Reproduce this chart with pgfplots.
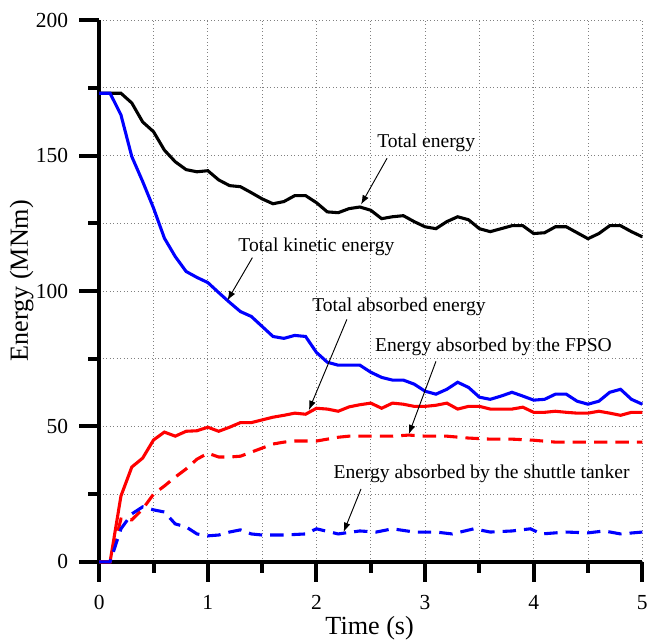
\documentclass[border=0pt]{standalone}
\usepackage{fontspec}
\setmainfont{Liberation Serif}
\usepackage{pgfplots}
\pgfplotsset{compat=1.18}
\usetikzlibrary{arrows.meta}

\begin{document}
\begin{tikzpicture}
\begin{axis}[
    scale only axis,
    width=405pt, height=404pt,
    xmin=0, xmax=5, ymin=0, ymax=200,
    axis lines*=left,
    axis line style={line width=3pt},
    xtick={0,1,2,3,4,5},
    ytick={0,50,100,150,200},
    minor xtick={0.5,1.5,2.5,3.5,4.5},
    minor ytick={25,75,125,175},
    tick align=outside,
    major tick length=15pt,
    minor tick length=8pt,
    every tick/.style={black, line width=3pt},
    grid=both,
    grid style={gray, dotted, line width=0.6pt},
    major grid style={gray, dotted, line width=0.6pt},
    minor grid style={gray, dotted, line width=0.6pt},
    /pgf/number format/assume math mode=true,
    ticklabel style={font=\fontsize{16}{18}\selectfont, inner sep=1pt},
    xticklabel style={yshift=-9pt},
    yticklabel style={xshift=-7pt},
    xlabel={Time (s)},
    ylabel={Energy (MNm)},
    label style={font=\fontsize{19.5}{21}\selectfont},
    xlabel style={at={(axis description cs:0.498,-0.123)}, anchor=center, inner sep=0pt},
    ylabel style={at={(axis description cs:-0.143,0.519)}, anchor=center, inner sep=2pt},
    clip=false,
]
% total energy
\addplot[black, line width=2.3pt] coordinates {
(0,173) (0.2,173) (0.3,169.4) (0.4,162.4) (0.5,158.8) (0.6,152) (0.7,147.7) (0.8,144.8) (0.9,144) (1.0,144.4)
(1.1,141) (1.2,138.9) (1.3,138.5) (1.4,136.3) (1.5,134) (1.6,132.2) (1.7,133) (1.8,135.2) (1.9,135.2) (2.0,132.6)
(2.1,129.2) (2.2,128.9) (2.3,130.4) (2.4,131) (2.5,129.8) (2.6,126.7) (2.7,127.4) (2.8,127.8) (2.9,125.6) (3.0,123.7)
(3.1,123) (3.2,125.6) (3.3,127.4) (3.4,126.3) (3.5,123) (3.6,121.9) (3.7,123) (3.8,124.1) (3.9,124.1) (4.0,121.2)
(4.1,121.5) (4.2,123.7) (4.3,123.7) (4.4,121.5) (4.5,119.3) (4.6,121.2) (4.7,124.1) (4.8,124.1) (4.9,121.9) (5.0,120)
};
% total kinetic energy
\addplot[blue, line width=2.3pt] coordinates {
(0,173) (0.1,173) (0.2,165) (0.3,149.6) (0.4,140.4) (0.5,130.6) (0.6,119.5) (0.7,112.7) (0.8,107.2) (0.9,105) (1.0,103.1)
(1.1,99.4) (1.2,95.8) (1.3,92.4) (1.4,90.6) (1.5,86.9) (1.6,83.2) (1.7,82.5) (1.8,83.6) (1.9,83.2) (2.0,77.3)
(2.1,73.7) (2.2,72.6) (2.3,72.6) (2.4,72.6) (2.5,70) (2.6,68.1) (2.7,67.1) (2.8,67.1) (2.9,65.6) (3.0,63)
(3.1,61.9) (3.2,63.7) (3.3,66.3) (3.4,64.4) (3.5,60.8) (3.6,60) (3.7,61.2) (3.8,62.6) (3.9,61.2) (4.0,59.7)
(4.1,60) (4.2,61.9) (4.3,61.9) (4.4,59.3) (4.5,58.2) (4.6,59.3) (4.7,62.6) (4.8,63.7) (4.9,60) (5.0,58.2)
};
% total absorbed energy
\addplot[red, line width=2.3pt] coordinates {
(0,0) (0.1,0) (0.2,24.3) (0.3,35) (0.4,38.3) (0.5,45) (0.6,47.9) (0.7,46.4) (0.8,48.2) (0.9,48.4) (1.0,49.7)
(1.1,48.2) (1.2,49.7) (1.3,51.4) (1.4,51.4) (1.5,52.4) (1.6,53.4) (1.7,54.1) (1.8,54.9) (1.9,54.5) (2.0,56.7)
(2.1,56.4) (2.2,55.6) (2.3,57.2) (2.4,58) (2.5,58.6) (2.6,56.7) (2.7,58.6) (2.8,58.2) (2.9,57.4) (3.0,57.4)
(3.1,57.8) (3.2,58.6) (3.3,56.4) (3.4,57.4) (3.5,57.4) (3.6,56.4) (3.7,56.4) (3.8,56.4) (3.9,57.1) (4.0,55.2)
(4.1,55.2) (4.2,55.6) (4.3,55.2) (4.4,54.9) (4.5,54.9) (4.6,55.6) (4.7,54.9) (4.8,54.1) (4.9,55.2) (5.0,55.2)
};
% energy absorbed by the FPSO
\addplot[red, line width=2.3pt, dash pattern=on 10pt off 6pt] coordinates {
(0,0) (0.1,0) (0.2,15.8) (0.3,15.5) (0.4,19.5) (0.5,25) (0.6,28) (0.7,31.3) (0.8,34.3) (0.9,37.9) (1.0,40.1)
(1.1,38.7) (1.2,38.7) (1.3,39) (1.4,40.5) (1.5,42) (1.6,43.5) (1.7,44.2) (1.8,44.6) (1.9,44.6) (2.0,44.6)
(2.1,45.3) (2.2,46) (2.3,46.4) (2.5,46.4) (2.7,46.4) (2.85,46.8) (3.0,46.4) (3.2,46.4) (3.4,45.7) (3.6,45.3)
(3.8,45.3) (4.0,44.9) (4.2,44.2) (4.5,44.2) (4.8,44.2) (5.0,44.2)
};
% energy absorbed by the shuttle tanker
\addplot[blue, line width=2.3pt, dash pattern=on 10pt off 6pt] coordinates {
(0,0) (0.1,0) (0.2,12.2) (0.3,17.7) (0.4,20.3) (0.5,19.2) (0.6,18.4) (0.7,14) (0.8,12.9) (0.9,10.3) (1.0,9.6)
(1.1,9.9) (1.2,11) (1.3,11.8) (1.4,10.3) (1.5,9.9) (1.7,9.9) (1.9,10.3) (2.0,12.2) (2.2,10.3) (2.4,11.4)
(2.55,11) (2.7,12.2) (2.9,11) (3.1,11) (3.25,10.3) (3.45,12.2) (3.6,11) (3.8,11.4) (3.97,12.2) (4.07,10.3)
(4.3,11) (4.5,10.7) (4.65,11.4) (4.8,10.3) (5.0,11)
};

\begin{scope}[every node/.style={font=\fontsize{14.6}{16}\selectfont, inner sep=1pt}]
\node at (axis cs:3.01,154.7) {Total energy};
\node at (axis cs:2.0,116.4) {Total kinetic energy};
\node at (axis cs:2.76,94.3) {Total absorbed energy};
\node at (axis cs:3.63,79.2) {Energy absorbed by the FPSO};
\node at (axis cs:3.52,32.4) {Energy absorbed by the shuttle tanker};
\end{scope}
\begin{scope}[-{Latex[length=7pt,width=5pt]}, line width=0.7pt]
\draw (axis cs:2.65,149) -- (axis cs:2.41,131.9);
\draw (axis cs:1.41,112.3) -- (axis cs:1.18,96.5);
\draw (axis cs:2.28,89.5) -- (axis cs:1.93,56);
\draw (axis cs:3.1,74) -- (axis cs:2.85,47.1);
\draw (axis cs:2.41,26.9) -- (axis cs:2.25,11);
\end{scope}
% page margins as in the reference
\path (axis cs:0,200) ++(-74pt,15pt) coordinate (tl);
\path (axis cs:5,0) ++(3.7pt,-60pt) coordinate (br);
\path (tl) rectangle (br);
\end{axis}
\end{tikzpicture}
\end{document}
